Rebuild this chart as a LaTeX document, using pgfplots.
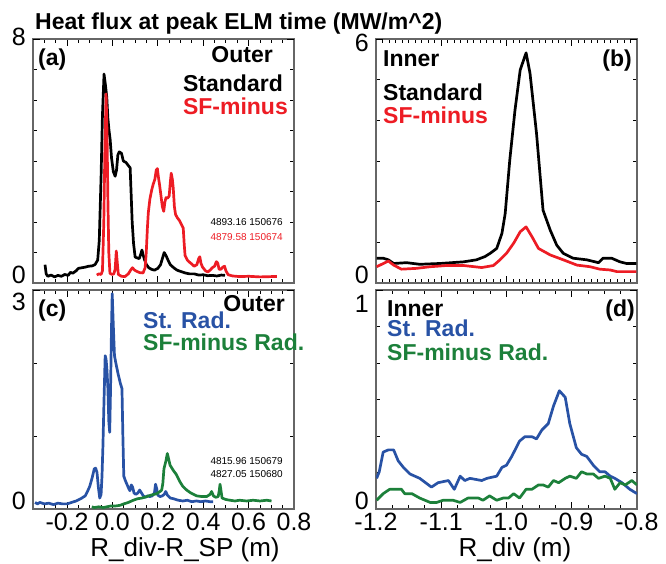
\documentclass[border=0pt]{standalone}
\usepackage{fontspec}
\setmainfont{Liberation Sans}
\usepackage{pgfplots}
\pgfplotsset{compat=1.18}
\definecolor{myred}{RGB}{237,28,36}
\definecolor{myblue}{RGB}{40,82,165}
\definecolor{mygreen}{RGB}{28,128,58}
\pgfplotsset{panel/.style={scale only axis, anchor=south west,
  axis line style={draw=black!60, line width=1.3pt},
  tick align=inside, major tick length=7pt, minor tick length=4pt,
  every tick/.style={black, line width=0.9pt},
  tick label style={font=\fontsize{25}{25}\selectfont},
  yticklabel style={anchor=base east, inner sep=0pt, xshift=-7pt},
  xticklabel style={anchor=north, inner sep=0pt, yshift=-4pt},
  every axis plot/.append style={line width=2.7pt, line join=round, no markers}}}
\newcommand{\bt}{\fontsize{23}{23}\selectfont\bfseries}
\newcommand{\sm}{\fontsize{10}{10}\selectfont}
\begin{document}
\begin{tikzpicture}
\path[use as bounding box] (0pt,0pt) rectangle (666pt,563pt);
% (a)
\begin{axis}[panel, at={(33pt,280pt)}, width=261pt, height=244pt,
  xmin=-0.35, xmax=0.8, ymin=0, ymax=8,
  xtick={-0.2,0,0.2,0.4,0.6,0.8}, xticklabels={}, minor xtick={-0.3,-0.25,...,0.76},
  ytick={0}, yticklabels={0}, minor ytick={1,...,7},
  extra y ticks={8}, extra y tick labels={8}, extra y tick style={yticklabel style={anchor=east, yshift=2pt}}]
\addplot[black] coordinates {(-0.297,0.60) (-0.292,0.30) (-0.285,0.22) (-0.27,0.26) (-0.255,0.20) (-0.24,0.25) (-0.225,0.22) (-0.21,0.28) (-0.195,0.25) (-0.185,0.35) (-0.175,0.32) (-0.16,0.40) (-0.15,0.48) (-0.135,0.50) (-0.12,0.52) (-0.105,0.55) (-0.09,0.56) (-0.077,0.60) (-0.065,0.75) (-0.058,1.4) (-0.05,3.5) (-0.044,5.5) (-0.037,6.85) (-0.031,6.5) (-0.025,6.1) (-0.02,5.4) (-0.015,5.0) (-0.01,4.7) (-0.004,4.1) (0.004,3.65) (0.012,3.5) (0.018,3.7) (0.024,4.2) (0.030,4.3) (0.040,4.25) (0.048,4.0) (0.060,3.95) (0.070,3.85) (0.078,3.78) (0.082,3.0) (0.087,2.0) (0.093,1.3) (0.100,0.85) (0.110,0.82) (0.118,0.80) (0.125,0.95) (0.130,1.08) (0.136,0.90) (0.142,0.75) (0.150,0.60) (0.160,0.50) (0.172,0.45) (0.185,0.42) (0.200,0.48) (0.212,0.60) (0.222,0.85) (0.228,1.00) (0.236,0.90) (0.245,0.75) (0.255,0.60) (0.270,0.50) (0.285,0.42) (0.30,0.38) (0.32,0.33) (0.34,0.30) (0.36,0.30) (0.38,0.26) (0.40,0.27) (0.42,0.24) (0.44,0.25) (0.46,0.23) (0.48,0.26) (0.496,0.25)};
\addplot[myred] coordinates {(-0.069,0.26) (-0.06,0.30) (-0.05,0.28) (-0.044,0.40) (-0.038,2.0) (-0.033,4.5) (-0.028,6.2) (-0.024,5.0) (-0.02,2.7) (-0.016,1.0) (-0.011,0.32) (-0.002,0.28) (0.006,0.30) (0.012,0.45) (0.017,1.05) (0.021,0.7) (0.026,0.28) (0.04,0.22) (0.055,0.21) (0.07,0.30) (0.08,0.42) (0.088,0.50) (0.098,0.42) (0.108,0.38) (0.12,0.34) (0.135,0.33) (0.144,0.5) (0.149,1.0) (0.154,1.8) (0.158,2.3) (0.165,2.75) (0.173,3.05) (0.180,3.25) (0.187,3.4) (0.193,3.7) (0.198,3.75) (0.203,3.45) (0.208,3.2) (0.214,2.85) (0.220,2.5) (0.226,2.35) (0.231,2.65) (0.236,2.8) (0.243,2.78) (0.250,2.85) (0.255,3.3) (0.259,3.6) (0.264,3.4) (0.268,3.1) (0.273,2.5) (0.278,2.25) (0.285,2.15) (0.295,2.05) (0.305,1.9) (0.312,1.80) (0.316,1.3) (0.320,0.9) (0.330,0.75) (0.340,0.68) (0.350,0.62) (0.36,0.55) (0.372,0.60) (0.380,0.80) (0.385,0.86) (0.390,0.65) (0.397,0.52) (0.41,0.40) (0.42,0.36) (0.43,0.42) (0.44,0.50) (0.45,0.55) (0.458,0.70) (0.464,0.65) (0.470,0.45) (0.478,0.45) (0.486,0.52) (0.494,0.55) (0.500,0.40) (0.51,0.27) (0.53,0.23) (0.56,0.21) (0.60,0.22) (0.65,0.20) (0.70,0.21) (0.724,0.21)};
\end{axis}
% (b)
\begin{axis}[panel, at={(376pt,280pt)}, width=261pt, height=244pt,
  xmin=-1.2, xmax=-0.8, ymin=0, ymax=6,
  xtick={-1.1,-1.0,-0.9}, xticklabels={}, minor xtick={-1.19,-1.18,...,-0.805},
  ytick={0}, yticklabels={0}, minor ytick={1,...,5},
  extra y ticks={6}, extra y tick labels={6}, extra y tick style={yticklabel style={anchor=east, yshift=-3.5pt}}]
\addplot[black] coordinates {(-1.199,0.61) (-1.189,0.61) (-1.181,0.57) (-1.173,0.48) (-1.153,0.50) (-1.133,0.46) (-1.102,0.48) (-1.066,0.52) (-1.046,0.57) (-1.033,0.65) (-1.025,0.73) (-1.015,0.85) (-1.007,1.22) (-1.002,1.71) (-0.995,3.02) (-0.987,4.25) (-0.979,5.24) (-0.970,5.66) (-0.964,5.16) (-0.954,3.68) (-0.944,1.79) (-0.933,1.30) (-0.923,0.93) (-0.913,0.73) (-0.898,0.61) (-0.877,0.57) (-0.859,0.50) (-0.852,0.61) (-0.839,0.61) (-0.826,0.52) (-0.816,0.48) (-0.801,0.48)};
\addplot[myred] coordinates {(-1.199,0.40) (-1.181,0.54) (-1.173,0.44) (-1.161,0.34) (-1.138,0.36) (-1.117,0.40) (-1.092,0.43) (-1.066,0.43) (-1.038,0.38) (-1.020,0.43) (-1.010,0.57) (-1.000,0.73) (-0.989,0.98) (-0.979,1.26) (-0.970,1.38) (-0.961,1.14) (-0.951,0.85) (-0.933,0.69) (-0.913,0.57) (-0.892,0.44) (-0.872,0.40) (-0.857,0.34) (-0.841,0.32) (-0.831,0.28) (-0.801,0.28)};
\end{axis}
% (c)
\begin{axis}[panel, at={(33pt,54pt)}, width=261pt, height=219pt,
  xmin=-0.35, xmax=0.8, ymin=0, ymax=3,
  xtick={-0.2,0,0.2,0.4,0.6,0.8}, xticklabels={-0.2,0.0,0.2,0.4,0.6,0.8}, minor xtick={-0.3,-0.25,...,0.76},
  ytick={0}, yticklabels={0}, minor ytick={1,2},
  extra y ticks={3}, extra y tick labels={3}, extra y tick style={yticklabel style={anchor=north east, yshift=-3pt}}]
\addplot[myblue] coordinates {(-0.341,0.09) (-0.33,0.07) (-0.32,0.09) (-0.30,0.07) (-0.28,0.08) (-0.26,0.06) (-0.24,0.08) (-0.22,0.07) (-0.20,0.07) (-0.18,0.09) (-0.16,0.11) (-0.14,0.14) (-0.12,0.18) (-0.11,0.24) (-0.10,0.31) (-0.09,0.42) (-0.08,0.55) (-0.074,0.56) (-0.068,0.50) (-0.062,0.30) (-0.056,0.15) (-0.050,0.20) (-0.046,0.45) (-0.042,0.85) (-0.037,1.5) (-0.032,2.1) (-0.028,2.05) (-0.024,1.9) (-0.020,1.65) (-0.016,1.2) (-0.012,1.05) (-0.008,1.7) (-0.004,2.5) (-0.001,2.95) (0.004,2.5) (0.009,2.1) (0.015,2.0) (0.025,1.85) (0.035,1.72) (0.042,1.65) (0.046,1.0) (0.050,0.45) (0.058,0.38) (0.065,0.33) (0.072,0.28) (0.077,0.25) (0.083,0.33) (0.089,0.30) (0.095,0.22) (0.103,0.20) (0.112,0.22) (0.120,0.26) (0.128,0.22) (0.136,0.18) (0.145,0.16) (0.155,0.18) (0.165,0.17) (0.175,0.18) (0.185,0.22) (0.190,0.34) (0.195,0.28) (0.200,0.19) (0.210,0.17) (0.22,0.18) (0.228,0.20) (0.235,0.24) (0.242,0.19) (0.255,0.15) (0.27,0.14) (0.29,0.12) (0.31,0.11) (0.33,0.12) (0.35,0.10) (0.37,0.11) (0.39,0.10) (0.41,0.11) (0.43,0.10) (0.444,0.10)};
\addplot[mygreen] coordinates {(-0.091,0.03) (-0.08,0.02) (-0.06,0.03) (-0.04,0.02) (-0.025,0.03) (-0.01,0.04) (0.01,0.04) (0.033,0.05) (0.05,0.07) (0.07,0.09) (0.092,0.12) (0.11,0.14) (0.13,0.15) (0.151,0.17) (0.17,0.19) (0.195,0.21) (0.21,0.24) (0.217,0.26) (0.222,0.35) (0.227,0.55) (0.235,0.65) (0.242,0.76) (0.248,0.68) (0.254,0.60) (0.262,0.56) (0.270,0.52) (0.280,0.48) (0.290,0.42) (0.298,0.37) (0.31,0.31) (0.327,0.26) (0.345,0.22) (0.371,0.18) (0.395,0.17) (0.415,0.17) (0.430,0.20) (0.437,0.24) (0.445,0.18) (0.455,0.16) (0.466,0.17) (0.471,0.26) (0.474,0.34) (0.478,0.26) (0.483,0.15) (0.50,0.13) (0.518,0.12) (0.54,0.11) (0.56,0.12) (0.591,0.11) (0.62,0.12) (0.65,0.11) (0.68,0.12) (0.701,0.11)};
\end{axis}
% (d)
\begin{axis}[panel, at={(376pt,54pt)}, width=261pt, height=219pt,
  xmin=-1.2, xmax=-0.8, ymin=0, ymax=1,
  xtick={-1.2,-1.1,-1.0,-0.9,-0.8}, xticklabels={-1.2,-1.1,-1.0,-0.9,-0.8}, minor xtick={-1.175,-1.15,...,-0.82},
  ytick={0}, yticklabels={0}, minor ytick={0.1667,0.3333,0.5,0.6667,0.8333},
  extra y ticks={1}, extra y tick labels={1}, extra y tick style={yticklabel style={anchor=north east, yshift=-5pt}}]
\addplot[myblue] coordinates {(-1.199,0.14) (-1.195,0.17) (-1.189,0.26) (-1.181,0.27) (-1.173,0.27) (-1.166,0.22) (-1.158,0.19) (-1.148,0.16) (-1.133,0.14) (-1.115,0.10) (-1.105,0.12) (-1.089,0.13) (-1.080,0.09) (-1.071,0.15) (-1.064,0.13) (-1.056,0.14) (-1.038,0.13) (-1.030,0.14) (-1.015,0.15) (-1.007,0.19) (-1.000,0.20) (-0.992,0.24) (-0.980,0.31) (-0.972,0.33) (-0.961,0.33) (-0.954,0.32) (-0.946,0.36) (-0.936,0.39) (-0.928,0.47) (-0.919,0.54) (-0.910,0.51) (-0.903,0.39) (-0.893,0.28) (-0.885,0.25) (-0.877,0.24) (-0.867,0.20) (-0.857,0.17) (-0.849,0.17) (-0.841,0.15) (-0.834,0.14) (-0.823,0.12) (-0.811,0.09) (-0.800,0.07)};
\addplot[mygreen] coordinates {(-1.199,0.04) (-1.189,0.07) (-1.179,0.09) (-1.168,0.09) (-1.161,0.09) (-1.156,0.07) (-1.145,0.07) (-1.133,0.05) (-1.117,0.03) (-1.107,0.03) (-1.097,0.04) (-1.082,0.04) (-1.071,0.03) (-1.059,0.05) (-1.043,0.05) (-1.036,0.04) (-1.026,0.06) (-1.015,0.04) (-1.005,0.05) (-0.997,0.05) (-0.989,0.07) (-0.980,0.05) (-0.970,0.09) (-0.961,0.09) (-0.951,0.11) (-0.944,0.11) (-0.936,0.10) (-0.928,0.13) (-0.920,0.12) (-0.910,0.14) (-0.903,0.15) (-0.893,0.14) (-0.885,0.17) (-0.877,0.16) (-0.867,0.16) (-0.859,0.14) (-0.849,0.15) (-0.841,0.14) (-0.834,0.09) (-0.826,0.12) (-0.818,0.11) (-0.808,0.13) (-0.800,0.11)};
\end{axis}
% texts
\node[anchor=base west, inner sep=0pt] at (35pt,533pt) {\bt Heat flux at peak ELM time (MW/m\^{}2)};
\node[anchor=base west, inner sep=0pt] at (38pt,497.3pt) {\bt (a)};
\node[anchor=base east, inner sep=0pt] at (273pt,500.7pt) {\bt Outer};
\node[anchor=base east, inner sep=0pt] at (283pt,471.3pt) {\bt Standard};
\node[anchor=base east, inner sep=0pt, text=myred] at (288pt,448pt) {\bt SF-minus};
\node[anchor=base east, inner sep=0pt] at (283pt,337pt) {\sm 4893.16 150676};
\node[anchor=base east, inner sep=0pt, text=myred] at (283pt,323pt) {\sm 4879.58 150674};
\node[anchor=base west, inner sep=0pt] at (383pt,496.3pt) {\bt Inner};
\node[anchor=base east, inner sep=0pt] at (632pt,496.3pt) {\bt (b)};
\node[anchor=base west, inner sep=0pt] at (383pt,462pt) {\bt Standard};
\node[anchor=base west, inner sep=0pt, text=myred] at (383pt,439.7pt) {\bt SF-minus};
\node[anchor=base west, inner sep=0pt] at (38pt,247pt) {\bt (c)};
\node[anchor=base east, inner sep=0pt] at (285pt,251.3pt) {\bt Outer};
\node[anchor=base west, inner sep=0pt, text=myblue] at (143pt,234.7pt) {\bt St. Rad.};
\node[anchor=base west, inner sep=0pt, text=mygreen] at (143pt,213pt) {\bt SF-minus Rad.};
\node[anchor=base east, inner sep=0pt] at (283pt,98.7pt) {\sm 4815.96 150679};
\node[anchor=base east, inner sep=0pt] at (283pt,85.3pt) {\sm 4827.05 150680};
\node[anchor=base west, inner sep=0pt] at (387pt,247pt) {\bt Inner};
\node[anchor=base east, inner sep=0pt] at (635pt,247pt) {\bt (d)};
\node[anchor=base west, inner sep=0pt, text=myblue] at (387pt,226.3pt) {\bt St. Rad.};
\node[anchor=base west, inner sep=0pt, text=mygreen] at (387pt,202.3pt) {\bt SF-minus Rad.};
\node[anchor=base, inner sep=0pt] at (185pt,6.3pt) {\fontsize{26}{26}\selectfont R\_div-R\_SP (m)};
\node[anchor=base, inner sep=0pt] at (515pt,6.3pt) {\fontsize{26}{26}\selectfont R\_div (m)};
\end{tikzpicture}
\end{document}
